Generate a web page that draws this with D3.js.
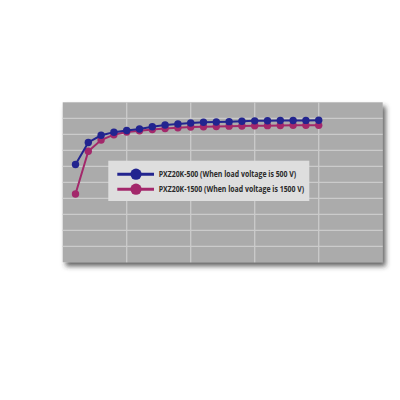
<!DOCTYPE html>
<html><head><meta charset="utf-8">
<script src="https://cdn.jsdelivr.net/npm/d3@7"></script>
<style>html,body{margin:0;padding:0;background:#fff;}svg{display:block;}</style>
</head><body>
<svg id="chart" width="400" height="400"></svg>
<script>
const xIndex = d3.range(1, 21);
const series500 = [61.1,74.9,79.4,81.25,82.4,83.3,84.7,85.8,86.4,87.1,87.5,87.7,87.9,88.2,88.4,88.5,88.6,88.6,88.7,88.75];
const series1500 = [42.7,69.4,76.4,79.75,81.4,82.25,83,83.6,84.1,84.6,84.75,84.9,85.1,85.2,85.3,85.4,85.5,85.6,85.6,85.6];
const seriesNames = ["PXZ20K-500 (When load voltage is 500 V)", "PXZ20K-1500 (When load voltage is 1500 V)"];
const seriesColors = ["#22248f", "#a3286b"];
const xGridTicks = [5, 10, 15, 20];
const yGridTicks = d3.range(10, 100, 10);

const svg = d3.select("#chart");
const L = 62.7, R = 382.7, T = 102.3, B = 262.3;
const x = d3.scaleLinear().domain([0, 25]).range([L, R]);
const y = d3.scaleLinear().domain([0, 100]).range([B, T]);

const defs = svg.append("defs");
const f = defs.append("filter").attr("id","sh").attr("x","-10%").attr("y","-10%").attr("width","125%").attr("height","130%");
f.append("feDropShadow").attr("dx",3).attr("dy",4).attr("stdDeviation",2.5).attr("flood-color","#333").attr("flood-opacity",0.75);

svg.append("rect").attr("x",L).attr("y",T).attr("width",R-L).attr("height",B-T)
  .attr("fill","#ababab").attr("filter","url(#sh)");

const g = svg.append("g");
g.selectAll("line.h").data(yGridTicks).join("line")
  .attr("x1",L).attr("x2",R).attr("y1",d=>y(d)).attr("y2",d=>y(d))
  .attr("stroke","#cbcbcb").attr("stroke-width",1.3);
g.selectAll("line.v").data(xGridTicks).join("line")
  .attr("y1",T).attr("y2",B).attr("x1",d=>x(d)).attr("x2",d=>x(d))
  .attr("stroke","#cbcbcb").attr("stroke-width",1.3);

const line = d3.line().x((d,i)=>x(xIndex[i])).y(d=>y(d));
[series1500, series500].forEach((s, k) => {
  const col = k === 0 ? seriesColors[1] : seriesColors[0];
  g.append("path").attr("d", line(s)).attr("fill","none").attr("stroke",col).attr("stroke-width",2);
  g.selectAll(null).data(s).join("circle")
    .attr("cx",(d,i)=>x(xIndex[i])).attr("cy",d=>y(d)).attr("r",3.7).attr("fill",col);
});

// legend
const lg = svg.append("g");
lg.append("rect").attr("x",108.3).attr("y",160.7).attr("width",201).attr("height",40.3).attr("fill","#dedede");
seriesNames.forEach((n, i) => {
  const yy = 174.2 + i*15;
  lg.append("line").attr("x1",117.3).attr("x2",154).attr("y1",yy).attr("y2",yy)
    .attr("stroke",seriesColors[i]).attr("stroke-width",3);
  lg.append("circle").attr("cx",136).attr("cy",yy).attr("r",5.6).attr("fill",seriesColors[i]);
  lg.append("text").attr("x",158.7).attr("y",yy+2.8).text(n)
    .attr("font-family","Open Sans, sans-serif").attr("font-weight","bold").attr("font-size",8)
    .attr("fill","#2a2a2a")
    .attr("textLength", i===0 ? 137.5 : 145.5).attr("lengthAdjust","spacingAndGlyphs");
});
</script>
</body></html>
